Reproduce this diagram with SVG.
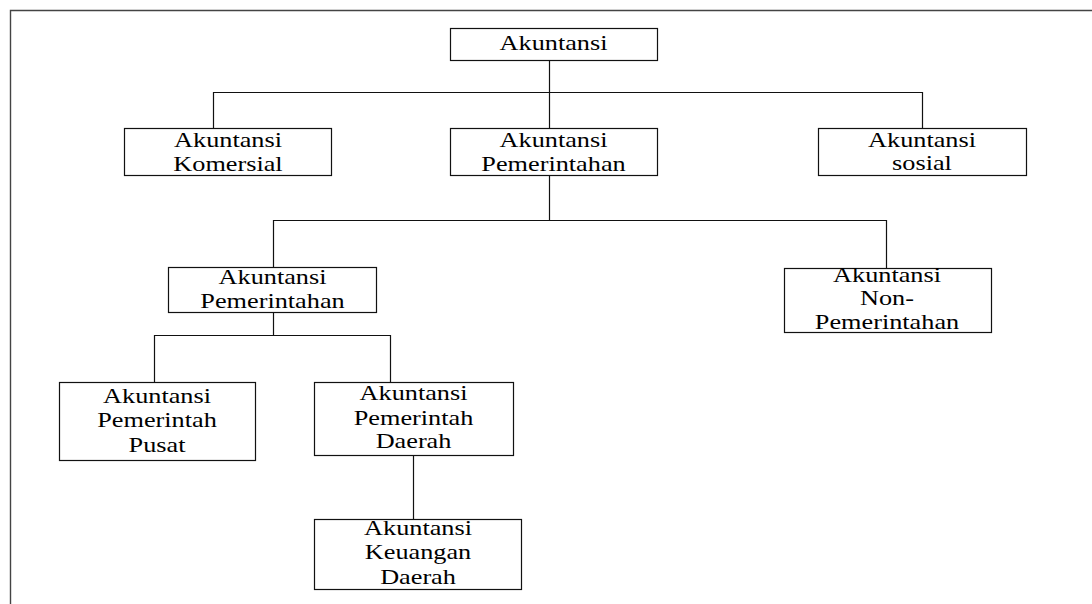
<svg xmlns="http://www.w3.org/2000/svg" width="1092" height="604" viewBox="0 0 1092 604">
<style>
.box{fill:#fff;stroke:#111;stroke-width:1.2}
.ln{fill:none;stroke:#111;stroke-width:1.2}
.fr{fill:none;stroke:#444;stroke-width:1.4}
.t{font-family:'Liberation Serif','DejaVu Serif',serif;font-size:21px;fill:#000;text-anchor:middle}
</style>
<rect width="1092" height="604" fill="#fff"/>
<path class="fr" d="M10.5,604 V10.5 H1092"/>
<g id="connectors">
<path class="ln" d="M549.5,60 V92.5"/>
<path class="ln" d="M213.5,128 V92.5 H922.5 V128"/>
<path class="ln" d="M549.5,92.5 V128"/>
<path class="ln" d="M549.5,175 V220.5"/>
<path class="ln" d="M273.5,267 V220.5 H886.5 V268"/>
<path class="ln" d="M273.5,312 V335.5"/>
<path class="ln" d="M154.5,382 V335.5 H390.5 V382"/>
<path class="ln" d="M413.5,455 V519"/>
</g>
<g id="n-akuntansi">
<rect class="box" x="450.5" y="28.5" width="207" height="32"/>
<text class="t" font-family="Liberation Serif" transform="translate(553.5,50) scale(1.25,1)">Akuntansi</text>
</g>
<g id="n-komersial">
<rect class="box" x="124.5" y="128.5" width="207" height="47"/>
<text class="t" transform="translate(228,147) scale(1.25,1)">Akuntansi</text>
<text class="t" transform="translate(228,171) scale(1.25,1)">Komersial</text>
</g>
<g id="n-pemerintahan">
<rect class="box" x="450.5" y="128.5" width="207" height="47"/>
<text class="t" transform="translate(553.5,147) scale(1.25,1)">Akuntansi</text>
<text class="t" transform="translate(553.5,171) scale(1.25,1)">Pemerintahan</text>
</g>
<g id="n-sosial">
<rect class="box" x="818.5" y="128.5" width="208" height="47"/>
<text class="t" transform="translate(922,147) scale(1.25,1)">Akuntansi</text>
<text class="t" transform="translate(922,170) scale(1.25,1)">sosial</text>
</g>
<g id="n-pemerintahan2">
<rect class="box" x="168.5" y="267.5" width="208" height="45"/>
<text class="t" transform="translate(272.5,284) scale(1.25,1)">Akuntansi</text>
<text class="t" transform="translate(272.5,308) scale(1.25,1)">Pemerintahan</text>
</g>
<g id="n-nonpemerintahan">
<rect class="box" x="784.5" y="268.5" width="207" height="64"/>
<text class="t" transform="translate(887,282) scale(1.25,1)">Akuntansi</text>
<text class="t" transform="translate(887,305) scale(1.25,1)">Non-</text>
<text class="t" transform="translate(887,329) scale(1.25,1)">Pemerintahan</text>
</g>
<g id="n-pusat">
<rect class="box" x="59.5" y="382.5" width="196" height="78"/>
<text class="t" transform="translate(157,403) scale(1.25,1)">Akuntansi</text>
<text class="t" transform="translate(157,427) scale(1.25,1)">Pemerintah</text>
<text class="t" transform="translate(157,452) scale(1.25,1)">Pusat</text>
</g>
<g id="n-daerah">
<rect class="box" x="314.5" y="382.5" width="199" height="73"/>
<text class="t" transform="translate(413.5,400) scale(1.25,1)">Akuntansi</text>
<text class="t" transform="translate(413.5,425) scale(1.25,1)">Pemerintah</text>
<text class="t" transform="translate(413.5,448) scale(1.25,1)">Daerah</text>
</g>
<g id="n-keuangan">
<rect class="box" x="314.5" y="519.5" width="207" height="70"/>
<text class="t" transform="translate(418,535) scale(1.25,1)">Akuntansi</text>
<text class="t" transform="translate(418,559) scale(1.25,1)">Keuangan</text>
<text class="t" transform="translate(418,584) scale(1.25,1)">Daerah</text>
</g>
</svg>
